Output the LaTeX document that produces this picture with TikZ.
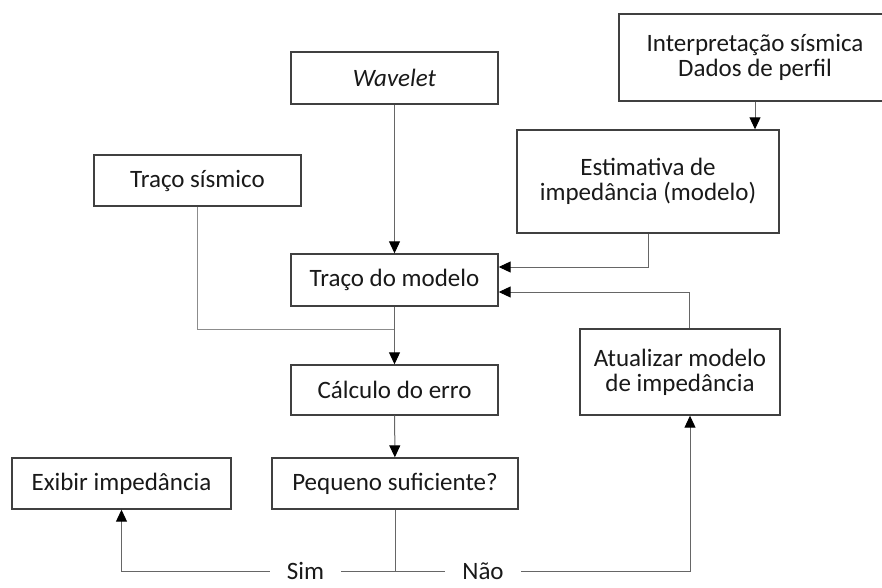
\documentclass[tikz,border=0pt]{standalone}
\usepackage{fontspec}
\setmainfont{Carlito}
\usepackage{tikz}
\usetikzlibrary{arrows.meta,calc}

\begin{document}
\begin{tikzpicture}[x=1pt,y=-1pt]
  \tikzset{BoxNode/.style = {shape = rectangle, draw = black!75, line width = 1.4pt, fill = white, text = black!90, align = center, inner sep = 0pt, font = \fontsize{25}{25}\selectfont}};
  \tikzset{EdgeStyle/.style = {draw = black!60, line width = 1pt}};
  \tikzset{ArrowStyle/.style = {EdgeStyle, -{Triangle[length=12pt,width=11pt,color=black]}}};
  \tikzset{LabelNode/.style = {inner sep = 0pt, minimum height = 16pt, text = black!90, font = \fontsize{25}{25}\selectfont}};

  \useasboundingbox (0,0) rectangle (882,588);

  \node[BoxNode, minimum width = 207, minimum height = 52] (wavelet) at (394.5,78) {\itshape Wavelet};
  \node[BoxNode, minimum width = 272, minimum height = 87] (interp) at (755,57.5) {Interpretação sísmica\\Dados de perfil};
  \node[BoxNode, minimum width = 262, minimum height = 103] (estim) at (648,181.5) {Estimativa de\\impedância (modelo)};
  \node[BoxNode, minimum width = 207, minimum height = 51] (tsism) at (197.5,180.5) {Traço sísmico};
  \node[BoxNode, minimum width = 207, minimum height = 52] (tmod) at (394.5,280) {Traço do modelo};
  \node[BoxNode, minimum width = 207, minimum height = 50] (calc) at (394.5,390) {Cálculo do erro};
  \node[BoxNode, minimum width = 200, minimum height = 86] (atual) at (680,372) {Atualizar modelo\\de impedância};
  \node[BoxNode, minimum width = 246, minimum height = 51] (pequeno) at (395,483.5) {Pequeno suficiente?};
  \node[BoxNode, minimum width = 219, minimum height = 51] (exibir) at (121.5,483.5) {Exibir impedância};
  \node[LabelNode, minimum width = 71] (sim) at (305.5,571) {Sim};
  \node[LabelNode, minimum width = 76] (nao) at (483,571) {Não};

  \coordinate (in1) at ($(tmod.east)+(0,-13)$);
  \coordinate (in2) at ($(tmod.east)+(0,12)$);
  \coordinate (atop) at ($(atual.north)+(9,0)$);
  \coordinate (abot) at ($(atual.south)+(10,0)$);
  \coordinate (join) at (tmod.south |- 0,329);
  \coordinate (split) at (pequeno.south |- 0,571);

  \draw[ArrowStyle] (wavelet) to (tmod);
  \draw[ArrowStyle] (interp) to (interp |- estim.north);
  \draw[ArrowStyle] (estim.south) |- (in1);
  \draw[ArrowStyle] (atop) |- (in2);
  \draw[EdgeStyle, draw = black!45] (tsism.south) |- (join);
  \draw[ArrowStyle] (tmod) to (calc);
  \draw[ArrowStyle] (calc) to (pequeno);
  \draw[EdgeStyle] (pequeno.south) to (split);
  \draw[EdgeStyle] (split) to (sim.east);
  \draw[ArrowStyle] (sim.west) -| (exibir.south);
  \draw[EdgeStyle] (split) to (nao.west);
  \draw[ArrowStyle] (nao.east) -| (abot);
\end{tikzpicture}
\end{document}
